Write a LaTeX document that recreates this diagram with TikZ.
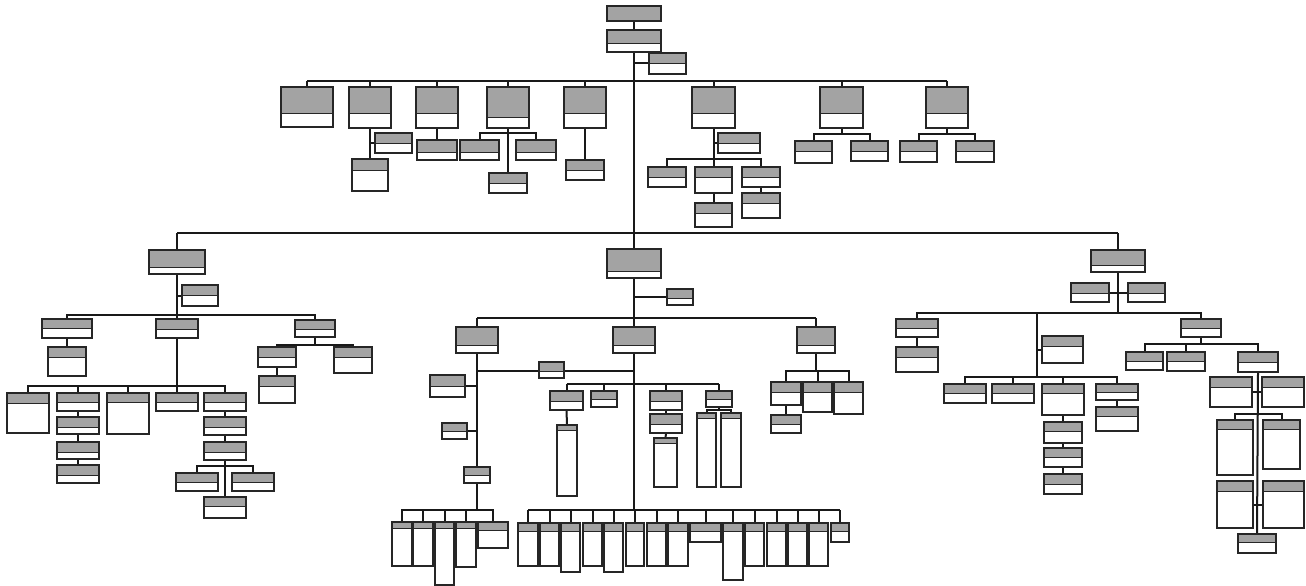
\documentclass[tikz,border=0pt]{standalone}
\pgfdeclarelayer{bg}
\pgfsetlayers{bg,main}
\tikzset{
  hdr/.style={fill=black!36},
  ob/.style={draw=black!85, line width=1.4pt, fill=white, inner sep=0pt, outer sep=0pt,
    path picture={\fill[hdr] (path picture bounding box.north west) rectangle ([yshift=-#1]path picture bounding box.north east);
      \draw[line width=0.7pt] ([yshift=-#1]path picture bounding box.north west) -- ([yshift=-#1]path picture bounding box.north east);}},
  conn/.style={line width=2pt, line join=miter, draw=black!90},
  trunk/.style={line width=1.1pt, draw=black!90}
}
\newcommand\bx[6]{\node[ob=#6, minimum width={(#4)-(#2)}, minimum height={(#5)-(#3)}, anchor=north west] (#1) at (#2,#3) {};}
\newcommand\fan[3]{\foreach \ch in {#3}{\draw[conn] (#1) |- (\ch.north |- #2) -- (\ch.north);}}
\newcommand\drops[2]{\foreach \ch in {#2}{\draw[conn] (\ch.north) -- (\ch.north |- #1);}}
\begin{document}
\begin{tikzpicture}[x=1pt,y=-1pt]
\useasboundingbox (0,0) rectangle (1306,586);
% ---------- top ----------
\bx{T0}{607}{6}{661}{21}{15}
\bx{T1}{607}{30}{661}{52}{13}
\bx{Tside}{649}{53}{686}{74}{10}
\bx{A1}{281}{87}{333}{127}{26}
\bx{A2}{349}{87}{391}{128}{26}
\bx{A3}{416}{87}{458}{128}{26}
\bx{A4}{487}{87}{529}{128}{30}
\bx{A5}{564}{87}{606}{128}{26}
\bx{A6}{692}{87}{735}{128}{26}
\bx{A7}{820}{87}{863}{128}{26}
\bx{A8}{926}{87}{968}{128}{26}
\bx{A2s}{375}{133}{412}{153}{10}
\bx{A2c}{352}{159}{388}{191}{11}
\bx{A3c}{417}{140}{457}{160}{12}
\bx{A4a}{460}{140}{499}{160}{12}
\bx{A4b}{516}{140}{556}{160}{12}
\bx{A4c}{489}{173}{527}{193}{10}
\bx{A5c}{566}{160}{604}{180}{10}
\bx{A6s}{718}{133}{760}{153}{10}
\bx{A6a}{648}{167}{686}{187}{10}
\bx{A6b}{695}{167}{732}{193}{10}
\bx{A6c}{742}{167}{780}{187}{10}
\bx{A6b2}{695}{203}{732}{227}{10}
\bx{A6c2}{742}{193}{780}{218}{10}
\bx{A7a}{795}{141}{832}{163}{10}
\bx{A7b}{851}{141}{888}{161}{10}
\bx{A8a}{900}{141}{937}{162}{10}
\bx{A8b}{956}{141}{994}{162}{10}
% ---------- left branch ----------
\bx{L0}{149}{250}{205}{274}{17}
\bx{L0s}{182}{285}{218}{306}{10}
\bx{L1}{42}{319}{92}{338}{9}
\bx{L1c}{48}{347}{86}{376}{10}
\bx{L2}{156}{319}{198}{338}{10}
\bx{L3}{295}{320}{335}{337}{9}
\bx{L3a}{258}{347}{296}{367}{10}
\bx{L3a2}{259}{376}{295}{403}{10}
\bx{L3b}{334}{347}{372}{373}{10}
\bx{c1}{7}{393}{49}{433}{10}
\bx{c2}{57}{393}{99}{411}{9}
\bx{c2b}{57}{417}{99}{434}{10}
\bx{c2c}{57}{442}{99}{459}{10}
\bx{c2d}{57}{465}{99}{483}{10}
\bx{c3}{107}{393}{149}{434}{9}
\bx{c4}{156}{393}{198}{411}{9}
\bx{c5}{204}{393}{246}{411}{9}
\bx{c5b}{204}{417}{246}{435}{10}
\bx{c5c}{204}{442}{246}{460}{10}
\bx{c5d}{176}{473}{218}{491}{9}
\bx{c5e}{232}{473}{274}{491}{9}
\bx{c5f}{204}{497}{246}{518}{9}
% ---------- middle branch ----------
\bx{M0}{607}{249}{661}{278}{22}
\bx{M0s}{667}{289}{693}{305}{9}
\bx{MA}{456}{327}{498}{353}{18}
\bx{MB}{613}{327}{655}{353}{18}
\bx{MC}{797}{327}{835}{353}{18}
\bx{MAh}{539}{362}{564}{378}{9}
\bx{MAs1}{430}{375}{465}{397}{11}
\bx{MAs2}{442}{423}{467}{439}{8}
\bx{MAd}{464}{467}{490}{483}{8}
\bx{MA1}{392}{522}{412}{566}{6}
\bx{MA2}{413}{522}{433}{566}{6}
\bx{MA3}{435}{522}{454}{585}{6}
\bx{MA4}{456}{522}{476}{567}{6}
\bx{MA5}{478}{522}{508}{548}{8}
\bx{MB1}{550}{391}{583}{410}{10}
\bx{MB2}{591}{391}{617}{407}{8}
\bx{MB3}{650}{391}{682}{410}{10}
\bx{MB4}{706}{391}{732}{407}{8}
\bx{MB1c}{557}{425}{577}{496}{5}
\bx{MB3b}{650}{414}{682}{433}{10}
\bx{MB3c}{654}{438}{677}{487}{5}
\bx{MB4a}{697}{413}{716}{487}{5}
\bx{MB4b}{721}{413}{741}{487}{5}
\bx{MC1}{771}{382}{801}{405}{10}
\bx{MC2}{803}{382}{832}{412}{10}
\bx{MC3}{834}{382}{863}{414}{10}
\bx{MC1c}{771}{415}{801}{433}{9}
\bx{N1}{518}{523}{538}{566}{8}
\bx{N2}{540}{523}{559}{566}{8}
\bx{N3}{561}{523}{580}{572}{8}
\bx{N4}{583}{523}{602}{566}{8}
\bx{N5}{604}{523}{623}{572}{8}
\bx{N6}{626}{523}{644}{566}{8}
\bx{N7}{647}{523}{666}{566}{8}
\bx{N8}{668}{523}{688}{566}{8}
\bx{N9}{690}{523}{721}{542}{8}
\bx{N10}{723}{523}{743}{580}{8}
\bx{N11}{745}{523}{764}{566}{8}
\bx{N12}{767}{523}{786}{566}{8}
\bx{N13}{788}{523}{807}{566}{8}
\bx{N14}{809}{523}{828}{566}{8}
\bx{N15}{831}{523}{849}{542}{8}
% ---------- right branch ----------
\bx{R0}{1091}{250}{1145}{272}{15}
\bx{R0l}{1071}{283}{1109}{302}{10}
\bx{R0r}{1128}{283}{1165}{302}{10}
\bx{R1}{896}{319}{938}{337}{9}
\bx{R1c}{896}{347}{938}{372}{10}
\bx{R3}{1181}{319}{1221}{337}{9}
\bx{R2s}{1042}{336}{1083}{363}{10}
\bx{R2a}{944}{384}{986}{403}{9}
\bx{R2b}{992}{384}{1034}{403}{9}
\bx{R2c}{1042}{384}{1084}{415}{9}
\bx{R2d}{1096}{384}{1138}{400}{8}
\bx{R2c2}{1044}{422}{1082}{443}{9}
\bx{R2c3}{1044}{448}{1082}{467}{9}
\bx{R2c4}{1044}{474}{1082}{494}{10}
\bx{R2d2}{1096}{407}{1138}{431}{9}
\bx{R3a}{1126}{352}{1163}{370}{9}
\bx{R3b}{1167}{352}{1205}{371}{9}
\bx{R3c}{1238}{352}{1278}{372}{10}
\bx{R3l}{1210}{377}{1252}{407}{10}
\bx{R3r}{1262}{377}{1304}{407}{10}
\bx{R3d}{1217}{420}{1253}{475}{9}
\bx{R3e}{1263}{420}{1300}{469}{9}
\bx{R3f}{1217}{481}{1253}{528}{10}
\bx{R3g}{1263}{481}{1304}{528}{10}
\bx{R3h}{1238}{534}{1276}{553}{8}
% ---------- bus levels ----------
\coordinate (b0) at (0,81);
\coordinate (b4) at (0,133);
\coordinate (b6) at (0,159);
\coordinate (b7) at (0,134);
\coordinate (bM) at (0,233);
\coordinate (bL) at (0,315);
\coordinate (bL3) at (0,345);
\coordinate (bL2) at (0,386);
\coordinate (bc5) at (0,466);
\coordinate (bMid) at (0,318);
\coordinate (hA) at (0,371);
\coordinate (bA) at (0,510);
\coordinate (bB) at (0,384);
\coordinate (bB4) at (0,410);
\coordinate (bC) at (0,371);
\coordinate (bBot) at (0,510);
\coordinate (bR) at (0,313);
\coordinate (R2j) at (1037,377);
\coordinate (bR3) at (0,344);
\coordinate (bR3c) at (0,414);
% ---------- connectors ----------
\begin{pgfonlayer}{bg}
\draw[trunk] (T0.south) -- (T1.north);
\draw[trunk] (T1.south) -- (M0.north);
\draw[trunk] (M0.south) -- (MB.north);
\draw[trunk] (MB.south) -- (MB.south |- bBot);
\draw[conn] (Tside.west) -- (Tside.west -| T1.south);
\draw[conn] (A1.north |- b0) -- (A8.north |- b0);
\drops{b0}{A1,A2,A3,A4,A5,A6,A7,A8}
\draw[conn] (L0.north |- bM) -- (R0.north |- bM);
\drops{bM}{L0,R0}
% row 1 subtrees
\draw[conn] (A2.south) -- (A2c.north);
\draw[conn] (A2s.west) -- (A2s.west -| A2.south);
\draw[conn] (A3.south) -- (A3c.north);
\fan{A4.south}{b4}{A4a,A4b}
\draw[conn] (A4.south) -- (A4c.north);
\draw[conn] (A5.south) -- (A5c.north);
\fan{A6.south}{b6}{A6a,A6b,A6c}
\draw[conn] (A6s.west) -- (A6s.west -| A6.south);
\draw[conn] (A6b.south) -- (A6b2.north);
\draw[conn] (A6c.south) -- (A6c2.north);
\fan{A7.south}{b7}{A7a,A7b}
\fan{A8.south}{b7}{A8a,A8b}
% left branch
\fan{L0.south}{bL}{L1,L2,L3}
\draw[conn] (L0s.west) -- (L0s.west -| L0.south);
\draw[conn] (L1.south) -- (L1c.north);
\fan{L3.south}{bL3}{L3a,L3b}
\draw[conn] (L3a.south) -- (L3a2.north);
\fan{L2.south}{bL2}{c1,c2,c3,c4,c5}
\draw[conn] (c2.south) -- (c2b.north);
\draw[conn] (c2b.south) -- (c2c.north);
\draw[conn] (c2c.south) -- (c2d.north);
\draw[conn] (c5.south) -- (c5b.north);
\draw[conn] (c5b.south) -- (c5c.north);
\fan{c5c.south}{bc5}{c5d,c5e}
\draw[conn] (c5c.south) -- (c5f.north);
% middle branch
\draw[conn] (MA.north |- bMid) -- (MC.north |- bMid);
\draw[conn] (M0.south) -- (M0.south |- bMid);
\drops{bMid}{MA,MC}
\draw[conn] (M0s.west) -- (M0s.west -| M0.south);
\draw[trunk] (MA.south) -- (MAd.north);
\draw[conn] (MA.south |- hA) -- (M0.south |- hA);
\draw[conn] (MAs1.east) -- (MAs1.east -| MA.south);
\draw[conn] (MAs2.east) -- (MAs2.east -| MA.south);
\fan{MAd.south}{bA}{MA1,MA2,MA3,MA4,MA5}
\draw[conn] (MB1.north |- bB) -- (MB4.north |- bB);
\drops{bB}{MB1,MB2,MB3,MB4}
\draw[conn] (MB1.south) -- (MB1c.north);
\draw[conn] (MB3.south) -- (MB3b.north);
\draw[conn] (MB3b.south) -- (MB3c.north);
\fan{MB4.south}{bB4}{MB4a,MB4b}
\fan{MC.south}{bC}{MC1,MC2,MC3}
\draw[conn] (MC1.south) -- (MC1c.north);
\draw[conn] (N1.north |- bBot) -- (N15.north |- bBot);
\drops{bBot}{N1,N2,N3,N4,N5,N6,N7,N8,N9,N10,N11,N12,N13,N14,N15}
% right branch
\fan{R0.south}{bR}{R1,R3}
\draw[conn] (R0.south) |- (R2j |- bR) -- (R2j);
\draw[conn] (R0l.east) -- (R0r.west);
\draw[conn] (R1.south) -- (R1c.north);
\draw[conn] (R2s.west) -- (R2s.west -| R2j);
\fan{R2j}{R2j}{R2a,R2b,R2c,R2d}
\draw[conn] (R2c.south) -- (R2c2.north);
\draw[conn] (R2c2.south) -- (R2c3.north);
\draw[conn] (R2c3.south) -- (R2c4.north);
\draw[conn] (R2d.south) -- (R2d2.north);
\fan{R3.south}{bR3}{R3a,R3b,R3c}
\draw[conn] (R3c.south) -- (R3h.north);
\draw[conn] (R3l.east) -- (R3r.west);
\fan{R3c.south}{bR3c}{R3d,R3e}
\draw[conn] (R3f.east) -- (R3g.west);
\end{pgfonlayer}
\end{tikzpicture}
\end{document}
